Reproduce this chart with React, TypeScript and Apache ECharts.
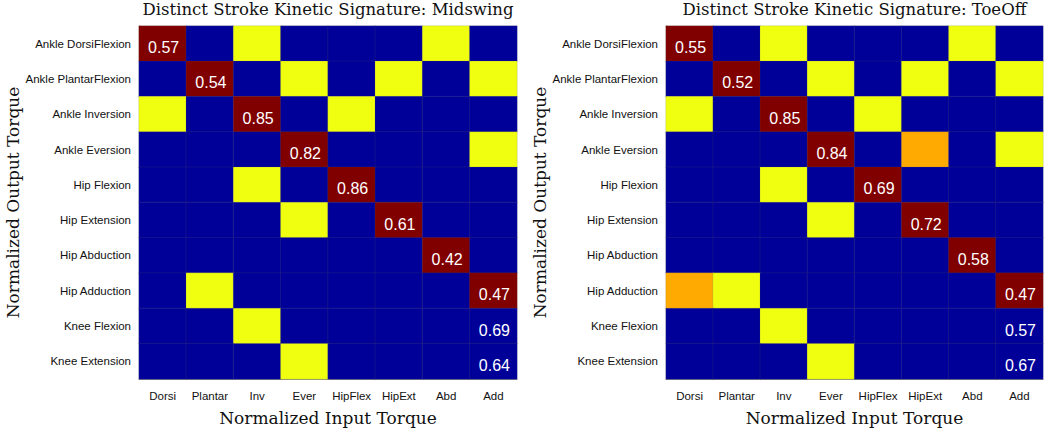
import React, { useEffect, useRef } from "react";
import * as echarts from "echarts";

const inputCategories = ["Dorsi", "Plantar", "Inv", "Ever", "HipFlex", "HipExt", "Abd", "Add"];
const outputCategories = [
  "Ankle DorsiFlexion",
  "Ankle PlantarFlexion",
  "Ankle Inversion",
  "Ankle Eversion",
  "Hip Flexion",
  "Hip Extension",
  "Hip Abduction",
  "Hip Adduction",
  "Knee Flexion",
  "Knee Extension",
];

// class codes: 0 = blue, 1 = yellow, 2 = orange, 3 = dark red
const midswingClasses: number[][] = [
  [3, 0, 1, 0, 0, 0, 1, 0],
  [0, 3, 0, 1, 0, 1, 0, 1],
  [1, 0, 3, 0, 1, 0, 0, 0],
  [0, 0, 0, 3, 0, 0, 0, 1],
  [0, 0, 1, 0, 3, 0, 0, 0],
  [0, 0, 0, 1, 0, 3, 0, 0],
  [0, 0, 0, 0, 0, 0, 3, 0],
  [0, 1, 0, 0, 0, 0, 0, 3],
  [0, 0, 1, 0, 0, 0, 0, 0],
  [0, 0, 0, 1, 0, 0, 0, 0],
];
const toeOffClasses: number[][] = [
  [3, 0, 1, 0, 0, 0, 1, 0],
  [0, 3, 0, 1, 0, 1, 0, 1],
  [1, 0, 3, 0, 1, 0, 0, 0],
  [0, 0, 0, 3, 0, 2, 0, 1],
  [0, 0, 1, 0, 3, 0, 0, 0],
  [0, 0, 0, 1, 0, 3, 0, 0],
  [0, 0, 0, 0, 0, 0, 3, 0],
  [2, 1, 0, 0, 0, 0, 0, 3],
  [0, 0, 1, 0, 0, 0, 0, 0],
  [0, 0, 0, 1, 0, 0, 0, 0],
];
// [row, col, text]
const midswingValues: [number, number, string][] = [
  [0, 0, "0.57"],
  [1, 1, "0.54"],
  [2, 2, "0.85"],
  [3, 3, "0.82"],
  [4, 4, "0.86"],
  [5, 5, "0.61"],
  [6, 6, "0.42"],
  [7, 7, "0.47"],
  [8, 7, "0.69"],
  [9, 7, "0.64"],
];
const toeOffValues: [number, number, string][] = [
  [0, 0, "0.55"],
  [1, 1, "0.52"],
  [2, 2, "0.85"],
  [3, 3, "0.84"],
  [4, 4, "0.69"],
  [5, 5, "0.72"],
  [6, 6, "0.58"],
  [7, 7, "0.47"],
  [8, 7, "0.57"],
  [9, 7, "0.67"],
];
const titles = [
  "Distinct Stroke Kinetic Signature: Midswing",
  "Distinct Stroke Kinetic Signature: ToeOff",
];

const BLUE = "#000099";
const YELLOW = "#F0FF10";
const ORANGE = "#FFAA00";
const RED = "#800000";
const SANS = "Liberation Sans, Arial, sans-serif";
const SERIF = "DejaVu Serif, serif";

function buildData(classes: number[][], values: [number, number, string][]) {
  const out: any[] = [];
  classes.forEach((row, r) => {
    row.forEach((cls, c) => {
      const v = values.find((x) => x[0] === r && x[1] === c);
      out.push({ value: [c, r, cls, v ? v[2] : ""] });
    });
  });
  return out;
}

export default function App() {
  const ref = useRef<HTMLDivElement>(null);
  useEffect(() => {
    document.body.style.margin = "0";
    const chart = echarts.init(ref.current!, null, { renderer: "svg" });
    const grids = [
      { left: 139, top: 26, width: 378, height: 362 },
      { left: 666, top: 26, width: 377, height: 362 },
    ];
    const xAxis = grids.map((_, i) => ({
      type: "category",
      gridIndex: i,
      data: inputCategories,
      position: "bottom",
      axisLine: { show: true, lineStyle: { color: "#888", width: 1 } },
      axisTick: { show: true, inside: true, length: 3, alignWithLabel: true, lineStyle: { color: "#888" } },
      axisLabel: { color: "#111", fontSize: 11.5, fontFamily: SANS, margin: 11, interval: 0 },
      splitLine: { show: false },
      name: "Normalized Input Torque",
      nameLocation: "middle",
      nameGap: 30,
      nameTextStyle: { color: "#111", fontSize: 17, fontFamily: SERIF },
    }));
    const yAxis = grids.map((_, i) => ({
      type: "category",
      gridIndex: i,
      data: outputCategories,
      inverse: true,
      axisLine: { show: true, lineStyle: { color: "#888", width: 1 } },
      axisTick: { show: true, inside: true, length: 3, alignWithLabel: true, lineStyle: { color: "#888" } },
      axisLabel: { color: "#111", fontSize: 11.5, fontFamily: SANS, margin: 8, interval: 0 },
      splitLine: { show: false },
      name: "Normalized Output Torque",
      nameLocation: "middle",
      nameGap: 118,
      nameTextStyle: { color: "#111", fontSize: 17, fontFamily: SERIF },
    }));
    const datasets = [
      buildData(midswingClasses, midswingValues),
      buildData(toeOffClasses, toeOffValues),
    ];
    chart.setOption({
      animation: false,
      backgroundColor: "#fff",
      title: titles.map((t, i) => ({
        text: t,
        left: grids[i].left + grids[i].width / 2,
        textAlign: "center",
        top: 1,
        padding: 0,
        textStyle: { color: "#111", fontSize: 16.5, fontWeight: "normal", fontFamily: SERIF },
      })),
      grid: grids,
      xAxis,
      yAxis,
      visualMap: {
        type: "piecewise",
        show: false,
        dimension: 2,
        seriesIndex: [0, 1],
        pieces: [
          { value: 0, color: BLUE },
          { value: 1, color: YELLOW },
          { value: 2, color: ORANGE },
          { value: 3, color: RED },
        ],
      },
      series: datasets.map((d, i) => ({
        type: "heatmap",
        xAxisIndex: i,
        yAxisIndex: i,
        data: d,
        itemStyle: { borderColor: "rgba(100,100,100,0.35)", borderWidth: 0.5 },
        label: {
          show: true,
          color: "#fff",
          fontSize: 16,
          fontFamily: SANS,
          offset: [1, 4],
          formatter: (p: any) => p.data.value[3],
        },
        emphasis: { disabled: true },
      })),
    });
    return () => chart.dispose();
  }, []);
  return <div ref={ref} style={{ width: 1050, height: 431 }} />;
}
